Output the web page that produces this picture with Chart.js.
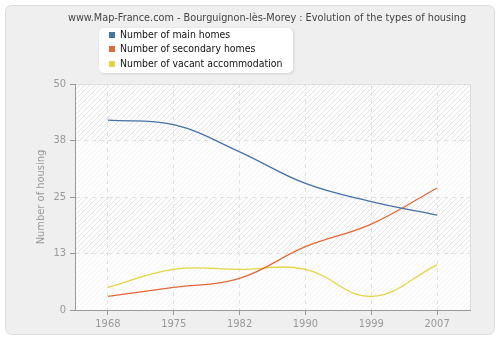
<!DOCTYPE html>
<html>
<head>
<meta charset="utf-8">
<script src="https://cdn.jsdelivr.net/npm/chart.js@4.4.1/dist/chart.umd.min.js"></script>
<style>
html,body{margin:0;padding:0;background:#ffffff;}
canvas{display:block;}
</style>
</head>
<body>
<canvas id="chart" width="500" height="340"></canvas>
<script>
// values
const years = ['1968','1975','1982','1990','1999','2007'];
const mainHomes = [42, 41, 35, 28, 24, 21];
const secondaryHomes = [3, 5, 7, 14, 19, 27];
const vacantHomes = [5, 9, 9, 9, 3, 10];
const yTicks = [0, 12.5, 25, 37.5, 50];

const seriesNames = ['Number of main homes','Number of secondary homes','Number of vacant accommodation'];
const seriesColours = ['#4672a8','#e4683a','#e3d642'];

const FONT = '"DejaVu Sans Condensed", "DejaVu Sans", sans-serif';
const titleText = 'www.Map-France.com - Bourguignon-lès-Morey : Evolution of the types of housing';

function roundRect(ctx,x,y,w,h,r){
	ctx.beginPath();
	ctx.moveTo(x+r,y);
	ctx.lineTo(x+w-r,y);
	ctx.arcTo(x+w,y,x+w,y+r,r);
	ctx.lineTo(x+w,y+h-r);
	ctx.arcTo(x+w,y+h,x+w-r,y+h,r);
	ctx.lineTo(x+r,y+h);
	ctx.arcTo(x,y+h,x,y+h-r,r);
	ctx.lineTo(x,y+r);
	ctx.arcTo(x,y,x+r,y,r);
	ctx.closePath();
}

function hatchPattern(ctx){
	var p = document.createElement('canvas');
	p.width = 5; p.height = 5;
	var g = p.getContext('2d');
	g.fillStyle = '#fdfdfd';
	g.fillRect(0,0,5,5);
	g.strokeStyle = '#e6e6e6';
	g.lineWidth = 1;
	g.beginPath();
	g.moveTo(-1,6); g.lineTo(6,-1);
	g.stroke();
	return ctx.createPattern(p,'repeat');
}

// panel, plot background, hatched bands
const backdrop = {
	id: 'backdrop',
	beforeDraw: function(chart){
		var ctx = chart.ctx, a = chart.chartArea, y = chart.scales.y;
		ctx.save();
		ctx.fillStyle = '#ffffff';
		ctx.fillRect(0,0,chart.width,chart.height);
		roundRect(ctx,5.5,5.5,489,329,6);
		ctx.fillStyle = '#efefef';
		ctx.fill();
		ctx.strokeStyle = '#dddddd';
		ctx.lineWidth = 1;
		ctx.stroke();

		ctx.fillStyle = hatchPattern(ctx);
		ctx.fillRect(a.left,a.top,a.right-a.left,a.bottom-a.top);
		// lighter bands
		ctx.fillStyle = 'rgba(255,255,255,0.5)';
		for(var i = 0; i < yTicks.length-1; i += 2){
			var t = y.getPixelForValue(yTicks[i+1]), b = y.getPixelForValue(yTicks[i]);
			ctx.fillRect(a.left,t,a.right-a.left,b-t);
		}
		ctx.strokeStyle = '#dcdcdc';
		ctx.beginPath();
		ctx.moveTo(a.left,a.top+0.5); ctx.lineTo(a.right+0.5,a.top+0.5); ctx.lineTo(a.right+0.5,a.bottom);
		ctx.stroke();

		// title
		ctx.fillStyle = '#444444';
		ctx.font = '10.8px '+FONT;
		ctx.textAlign = 'center';
		ctx.textBaseline = 'middle';
		ctx.fillText(titleText,267,18);
		ctx.restore();
	},
	afterDraw: function(chart){
		var ctx = chart.ctx;
		ctx.save();
		ctx.shadowColor = 'rgba(0,0,0,0.12)';
		ctx.shadowBlur = 3;
		ctx.shadowOffsetX = 1;
		ctx.shadowOffsetY = 1;
		roundRect(ctx,99,28,194,45,5);
		ctx.fillStyle = '#ffffff';
		ctx.fill();
		ctx.restore();
		ctx.save();
		ctx.font = '10.4px '+FONT;
		ctx.textBaseline = 'middle';
		ctx.textAlign = 'left';
		var rows = [35,49,64];
		chart.data.datasets.forEach(function(ds,i){
			ctx.fillStyle = ds.borderColor;
			ctx.fillRect(109,rows[i]-3,6,6);
			ctx.fillStyle = '#111111';
			ctx.fillText(ds.label,120,rows[i]);
		});
		ctx.restore();
	}
};

function makeSet(label,data,colour){
	return {
		label: label,
		data: data,
		borderColor: colour,
		backgroundColor: colour,
		borderWidth: 1.3,
		pointRadius: 0,
		pointHoverRadius: 0,
		tension: 0.4,
		fill: false
	};
}

new Chart(document.getElementById('chart'),{
	type: 'line',
	data: {
		labels: years,
		datasets: [
			makeSet(seriesNames[0],mainHomes,seriesColours[0]),
			makeSet(seriesNames[1],secondaryHomes,seriesColours[1]),
			makeSet(seriesNames[2],vacantHomes,seriesColours[2])
		]
	},
	plugins: [backdrop],
	options: {
		responsive: false,
		animation: false,
		devicePixelRatio: 1,
		layout: {padding: {top: 84, right: 30, bottom: 0, left: 35}},
		plugins: {legend: {display: false}, title: {display: false}, tooltip: {enabled: false}},
		scales: {
			x: {
				type: 'category',
				offset: true,
				afterFit: function(s){ s.height = 30; },
				grid: {color: '#e2e2e2', lineWidth: 1, tickColor: '#999999', tickLength: 5, tickBorderDash: []},
				border: {color: '#999999', width: 1, dash: [4,4]},
				ticks: {color: '#999999', font: {family: FONT, size: 11}, padding: 3, maxRotation: 0}
			},
			y: {
				min: 0,
				max: 50,
				afterFit: function(s){ s.width = 40; },
				afterBuildTicks: function(s){ s.ticks = yTicks.map(function(v){ return {value: v}; }); },
				grid: {color: '#e2e2e2', lineWidth: 1, tickColor: '#999999', tickLength: 5, tickBorderDash: []},
				border: {color: '#999999', width: 1, dash: [4,4]},
				ticks: {color: '#999999', font: {family: FONT, size: 11}, padding: 4, callback: function(v){ return Math.round(v); }},
				title: {display: true, text: 'Number of housing', color: '#999999', font: {family: FONT, size: 11}, padding: {top: 0, bottom: 0}}
			}
		}
	}
});
</script>
</body>
</html>
